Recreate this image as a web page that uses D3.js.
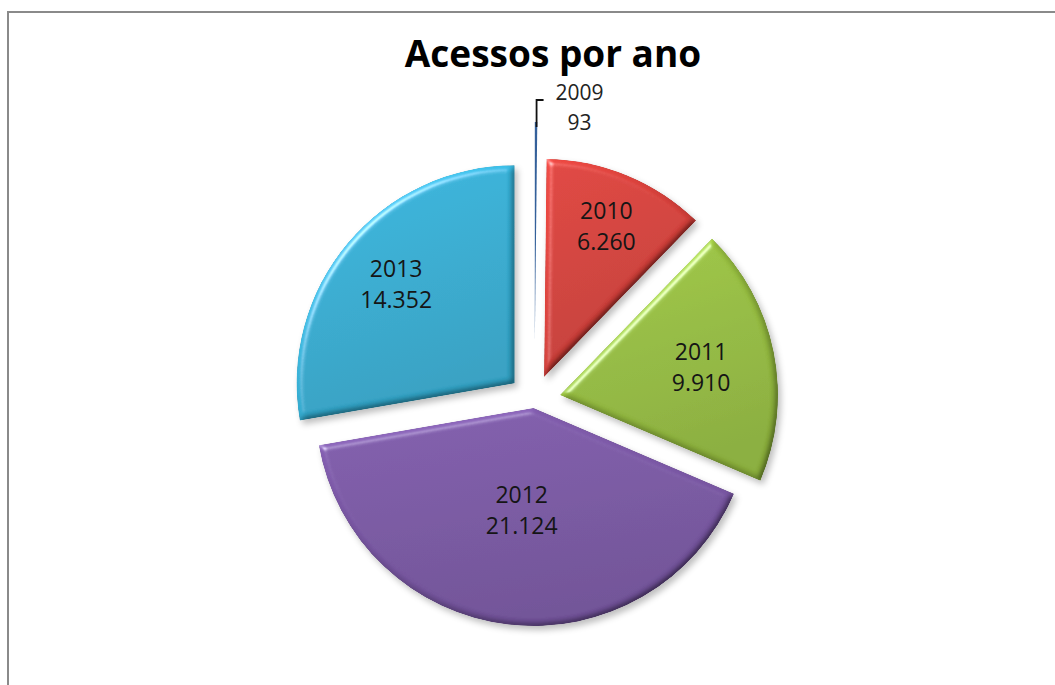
<!DOCTYPE html>
<html>
<head>
<meta charset="utf-8">
<script src="https://cdn.jsdelivr.net/npm/d3@7"></script>
<style>
  body { margin: 0; background: #fff; }
  svg { display: block; }
</style>
</head>
<body>
<div id="chart"></div>
<script>
// Dados
const years = ["2009", "2010", "2011", "2012", "2013"];
const acessos = [93, 6260, 9910, 21124, 14352];

// Cores (Office 2007)
const colors = ["#34609A", "#D9423C", "#9AC242", "#7D5AA8", "#36B2D8"];

// Layout
const wSvg = 1055, hSvg = 685;
const cx = 534.5, cy = 400, radius = 218;
const explode = [60, 25, 26, 8, 26];
const labelFrac = [0, 0.75, 0.66, 0.47, 0.71];

const ptBR = d3.formatLocale({ decimal: ",", thousands: ".", grouping: [3], currency: ["R$", ""] });
const fmt = ptBR.format(",d");

const svg = d3.select("#chart").append("svg")
    .attr("width", wSvg)
    .attr("height", hSvg);

// Moldura
svg.append("rect")
    .attr("x", 8).attr("y", 12)
    .attr("width", 1100).attr("height", 700)
    .attr("fill", "#fff")
    .attr("stroke", "#8a8a8a")
    .attr("stroke-width", 2);

// Titulo
svg.append("text")
    .attr("x", 553).attr("y", 67)
    .attr("text-anchor", "middle")
    .attr("font-family", "'Open Sans', sans-serif")
    .attr("font-weight", "bold")
    .attr("font-size", 37)
    .attr("fill", "#000")
    .text("Acessos por ano");

// Efeito bisel + sombra
const defs = svg.append("defs");
const filter = defs.append("filter").attr("id", "bevel")
    .attr("x", "-15%").attr("y", "-15%").attr("width", "140%").attr("height", "140%");
filter.append("feGaussianBlur").attr("in", "SourceAlpha").attr("stdDeviation", 3).attr("result", "blur");
filter.append("feDiffuseLighting").attr("in", "blur").attr("surfaceScale", 3)
    .attr("diffuseConstant", 1).attr("lighting-color", "#fff").attr("result", "diff")
    .append("feDistantLight").attr("azimuth", 225).attr("elevation", 50);
filter.append("feComposite").attr("in", "SourceGraphic").attr("in2", "diff")
    .attr("operator", "arithmetic").attr("k1", 1.3).attr("k2", 0).attr("k3", 0).attr("k4", 0)
    .attr("result", "shaded");
filter.append("feSpecularLighting").attr("in", "blur").attr("surfaceScale", 3)
    .attr("specularConstant", 0.45).attr("specularExponent", 60)
    .attr("lighting-color", "#fff").attr("result", "spec")
    .append("feDistantLight").attr("azimuth", 225).attr("elevation", 50);
filter.append("feComposite").attr("in", "spec").attr("in2", "SourceAlpha")
    .attr("operator", "in").attr("result", "specIn");
filter.append("feComposite").attr("in", "shaded").attr("in2", "specIn")
    .attr("operator", "arithmetic").attr("k1", 0).attr("k2", 1).attr("k3", 1).attr("k4", 0)
    .attr("result", "lit");
filter.append("feComposite").attr("in", "lit").attr("in2", "SourceAlpha")
    .attr("operator", "in").attr("result", "litIn");
filter.append("feOffset").attr("in", "blur").attr("dx", 3).attr("dy", 4).attr("result", "off");
filter.append("feFlood").attr("flood-color", "#000").attr("flood-opacity", 0.25);
filter.append("feComposite").attr("in2", "off").attr("operator", "in").attr("result", "shadow");
const merge = filter.append("feMerge");
merge.append("feMergeNode").attr("in", "shadow");
merge.append("feMergeNode").attr("in", "litIn");

// Gradientes
colors.forEach((c, i) => {
    const g = defs.append("linearGradient").attr("id", "grad" + i)
        .attr("x1", 0).attr("y1", 0).attr("x2", 0.3).attr("y2", 1);
    g.append("stop").attr("offset", "0%").attr("stop-color", d3.color(c).brighter(0.1));
    g.append("stop").attr("offset", "100%").attr("stop-color", d3.color(c).darker(0.3));
});

const pie = d3.pie().sort(null).value(d => d);
const arcs = pie(acessos);
const arc = d3.arc().innerRadius(0).outerRadius(radius);

const dirOf = d => {
    const a = (d.startAngle + d.endAngle) / 2;
    return [Math.sin(a), -Math.cos(a)];
};

const g = svg.append("g").attr("transform", `translate(${cx},${cy})`);

// Fatias
g.selectAll("path.slice")
    .data(arcs)
    .join("path")
    .attr("class", "slice")
    .attr("transform", (d, i) => {
        const [dx, dy] = dirOf(d);
        return `translate(${dx * explode[i]},${dy * explode[i]})`;
    })
    .attr("d", arc)
    .attr("fill", (d, i) => i === 0 ? colors[0] : `url(#grad${i})`)
    .attr("filter", (d, i) => i === 0 ? null : "url(#bevel)");

// Rotulos
const fontLabel = "'Open Sans', sans-serif";
arcs.forEach((d, i) => {
    const [dx, dy] = dirOf(d);
    if (i === 0) {
        // fatia pequena: linha de chamada
        const tipX = dx * (explode[i] + radius) + 0.5;
        const tipY = dy * (explode[i] + radius);
        g.append("path")
            .attr("d", `M${tipX},${tipY + 5} V${tipY - 22} H${tipX + 7}`)
            .attr("fill", "none")
            .attr("stroke", "#111")
            .attr("stroke-width", 1.8);
        const t = g.append("text")
            .attr("text-anchor", "middle")
            .attr("font-family", fontLabel)
            .attr("font-size", 21)
            .attr("fill", "#222");
        t.append("tspan").attr("x", tipX + 43).attr("y", tipY - 22).text(years[i]);
        t.append("tspan").attr("x", tipX + 43).attr("y", tipY + 8).text(fmt(acessos[i]));
        return;
    }
    const r = explode[i] + radius * labelFrac[i];
    const lx = dx * r, ly = dy * r;
    const t = g.append("text")
        .attr("text-anchor", "middle")
        .attr("font-family", fontLabel)
        .attr("font-size", 23)
        .attr("fill", "#151515");
    t.append("tspan").attr("x", lx).attr("y", ly - 7).text(years[i]);
    t.append("tspan").attr("x", lx).attr("y", ly + 24).text(fmt(acessos[i]));
});
</script>
</body>
</html>
